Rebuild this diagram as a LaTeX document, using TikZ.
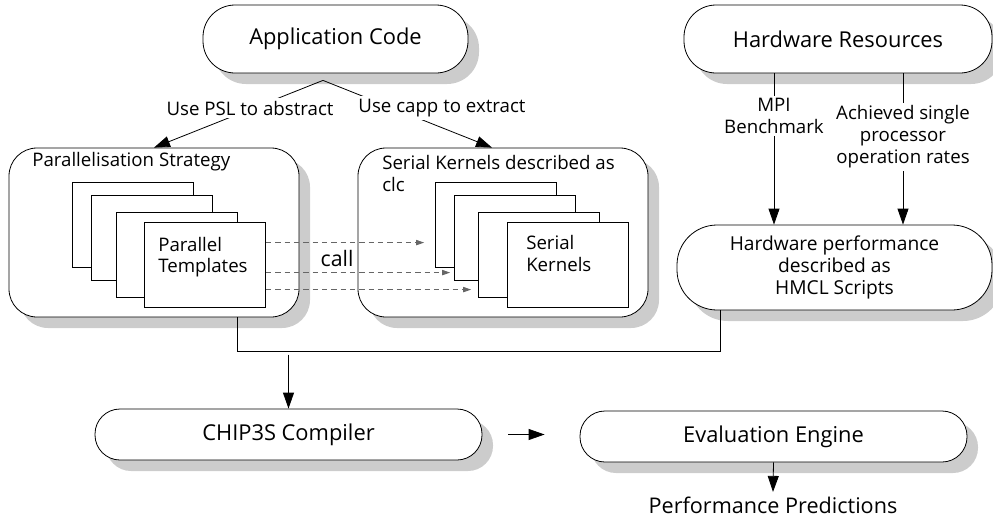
\documentclass[tikz,border=0pt]{standalone}
\usepackage{fontspec}
\setmainfont{Open Sans}
\usetikzlibrary{shadows,arrows.meta,calc}
\begin{document}
\begin{tikzpicture}[x=0.75pt,y=-0.75pt,
  box/.style={draw=black,line width=0.6pt,fill=white,
    drop shadow={shadow xshift=8.25pt,shadow yshift=-8.25pt,fill=black!20,opacity=1}},
  sheet/.style={draw=black,line width=0.6pt,fill=white,minimum width=90.75pt,minimum height=63.75pt,inner sep=0pt},
  arr/.style={line width=0.6pt,-{Triangle[length=12pt,width=8.25pt]}},
  callarr/.style={line width=0.6pt,draw=black!60,dash pattern=on 4pt off 3pt,-{Triangle[length=6pt,width=4pt,fill=black!60]}},
  big/.style={font=\fontsize{16.4pt}{20pt}\selectfont},
  mid/.style={font=\fontsize{14pt}{16.5pt}\selectfont},
  lbl/.style={mid,fill=white,inner sep=2pt,align=center},
  ]
\useasboundingbox (0,0) rectangle (993,518);
\begin{scope}
\clip (0,0) rectangle (993,518);
% main stadium boxes
\node[box,big,rounded corners=24pt,minimum width=198.75pt,minimum height=51pt] (app) at (335.5,39) {Application Code};
\node[box,big,rounded corners=24pt,minimum width=231pt,minimum height=51pt] (hw) at (838,39) {Hardware Resources};
\node[box,rounded corners=21pt,minimum width=217.5pt,minimum height=126.75pt] (ps) at (154,232.5) {};
\node[box,rounded corners=21pt,minimum width=217.5pt,minimum height=126.75pt] (sk) at (503,232.5) {};
\node[box,rounded corners=30pt,minimum width=236.25pt,minimum height=63.75pt,align=center,
  font=\fontsize{14.4pt}{16.2pt}\selectfont] (hp) at (834.5,267.5)
  {Hardware performance\\described as\\HMCL Scripts};
\node[box,big,rounded corners=18.75pt,minimum width=290.25pt,minimum height=38.25pt] (chip) at (288.5,434.5) {CHIP3S Compiler};
\node[box,big,rounded corners=18.75pt,minimum width=290.25pt,minimum height=38.25pt] (ee) at (773.5,436.5) {Evaluation Engine};
\end{scope}
% titles
\node[mid,anchor=west,inner sep=0pt] (pstitle) at (32,162) {Parallelisation Strategy};
\node[anchor=west,inner sep=0pt,align=left,font=\fontsize{14pt}{17pt}\selectfont] (sktitle) at (382,173.5) {Serial Kernels described as\\clc};
% stacked sheets
\node[sheet] (p1) at (132.5,224.5) {};
\node[sheet] (p2) at (151.5,238) {};
\node[sheet] (p3) at (176.5,254.5) {};
\node[sheet] (p4) at (205,264.5) {};
\node[anchor=west,inner sep=0pt,align=left,font=\fontsize{14pt}{16pt}\selectfont] (pttext) at (158,257) {Parallel\\Templates};
\node[sheet] (s1) at (496,224.5) {};
\node[sheet] (s2) at (515,238) {};
\node[sheet] (s3) at (539,254.5) {};
\node[sheet] (s4) at (568,264.5) {};
\node[anchor=west,inner sep=0pt,align=left,font=\fontsize{14pt}{16.5pt}\selectfont] (sktext) at (526,253.5) {Serial\\Kernels};
% call arrows
\coordinate (d1) at ([yshift=-15.75pt]p4.north east);
\coordinate (d2) at ([yshift=-38.25pt]p4.north east);
\coordinate (d3) at ([yshift=-51pt]p4.north east);
\draw[callarr,shorten >=8.25pt] (d1) -- (d1 -| s1.west);
\draw[callarr,shorten >=3pt] (d2) -- (d2 -| s2.west);
\draw[callarr,shorten >=5.25pt] (d3) -- (d3 -| s3.west);
\node[font=\fontsize{16pt}{19pt}\selectfont] (call) at (337,258) {call};
% application code connectors
\coordinate (apex) at ([xshift=-9.4pt,yshift=-5.25pt]app.south);
\draw[arr] (apex) -- (ps.north);
\draw[arr] (apex) -- ([xshift=-8.25pt]sk.north);
\node[lbl] (l1) at (250,108) {Use PSL to abstract};
\node[lbl] (l2) at (442,108) {Use capp to extract};
% hardware connectors
\coordinate (mpic) at (774,116);
\coordinate (achc) at (903,137);
\draw[arr] (hw.south -| mpic) -- (hp.north -| mpic);
\draw[arr] (hw.south -| achc) -- (hp.north -| achc);
\node[lbl] (mpi) at (mpic) {MPI\\Benchmark};
\node[lbl] (ach) at (achc) {Achieved single\\processor\\operation rates};
% join to compiler
\draw[line width=0.6pt] ([xshift=62.25pt]ps.south) -- ++(0,34) -| ([xshift=-85.875pt]hp.south);
\draw[arr] ([yshift=40.5pt]chip.north) -- (chip.north);
\draw[arr,shorten <=19.5pt,shorten >=26.25pt] (chip.east) -- (chip.east -| ee.west);
\node[font=\fontsize{16.2pt}{19pt}\selectfont] (pp) at (773,505) {Performance Predictions};
\draw[arr] (ee.south) -- (pp.north);
\end{tikzpicture}
\end{document}
